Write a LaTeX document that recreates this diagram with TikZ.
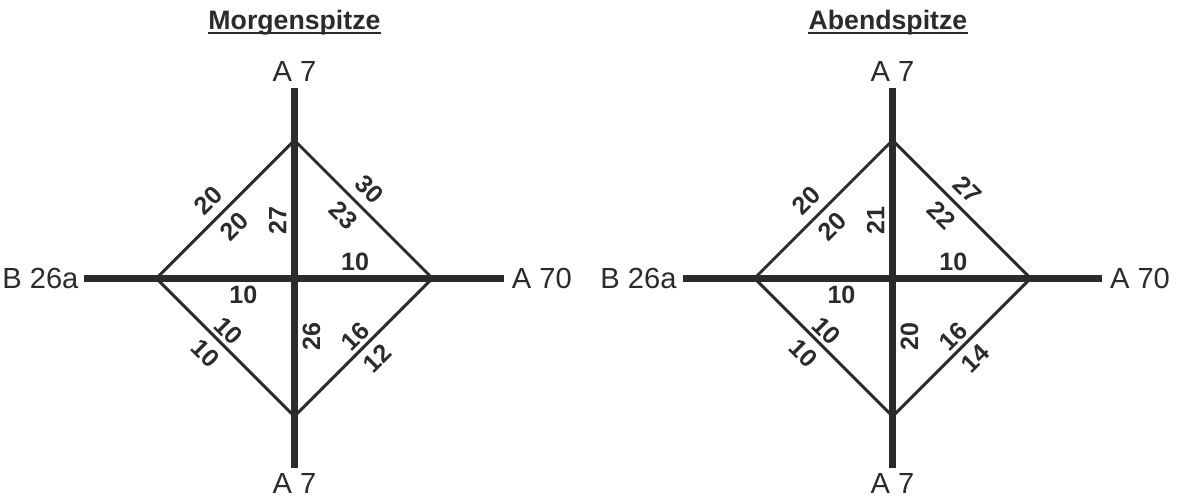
\documentclass[tikz,border=0pt]{standalone}
\usepackage{fontspec}
\setmainfont{Liberation Sans}
\usetikzlibrary{positioning}
\definecolor{ink}{HTML}{2B2B2B}

\begin{document}
\begin{tikzpicture}[
  road/.style={draw=ink, line width=4.3pt},
  side/.style={draw=ink, line width=1.85pt},
  num/.style={font=\fontsize{15.5}{15.5}\selectfont\bfseries, text=ink, inner sep=4.8pt, sloped},
  numin/.style={num, inner sep=2pt},
  dest/.style={font=\fontsize{18}{18}\selectfont, text=ink, inner sep=0pt},
  title/.style={font=\fontsize{16.5}{17}\selectfont\bfseries, text=ink, inner sep=0pt, anchor=base},
  uline/.style={draw=ink, line width=1.2pt}
]
\useasboundingbox (0,0) rectangle (25.8,10.85);

% Morgenspitze
\begin{scope}[shift={(6.4,4.8)}]
\coordinate (mC) at (0,0);
\coordinate (mT) at (0,3);
\coordinate (mB) at (0,-3);
\coordinate (mL) at (-3,0);
\coordinate (mR) at (3,0);
\coordinate (mN) at (0,4.13);
\coordinate (mS) at (0,-4.13);
\coordinate (mW) at (-4.565,0);
\coordinate (mE) at (4.545,0);
\node[title] (mTitle) at (0,5.41) {Morgenspitze};
\draw[uline] ([yshift=-2pt]mTitle.base west) -- ([yshift=-2pt]mTitle.base east);
\draw[side] (mL) -- node[num, pos=.47, above] {20} node[num, pos=.47, below] {20} (mT);
\draw[side] (mT) -- node[num, pos=.45, above] {30} node[num, pos=.45, below] {23} (mR);
\draw[side] (mL) -- node[numin, pos=.45, above] {10} node[num, pos=.45, below] {10} (mB);
\draw[side] (mB) -- node[numin, pos=.51, above] {16} node[num, pos=.51, below] {12} (mR);
\draw[road] (mW) -- (mE);
\draw[road] (mN) -- (mS);
\path (mC) -- node[num, pos=.42, above] {27} (mT);
\path (mB) -- node[num, pos=.58, below] {26} (mC);
\path (mC) -- node[num, pos=.44, above] {10} (mR);
\path (mL) -- node[num, pos=.63, below] {10} (mC);
\node[dest, left=3.5pt of mW] (mWl) {B 26a};
\node[dest, right=5pt of mE] (mEl) {A 70};
\node[dest, above=4pt of mN] (mNl) {A 7};
\node[dest, below=3pt of mS] (mSl) {A 7};
\end{scope}

% Abendspitze
\begin{scope}[shift={(19.4,4.8)}]
\coordinate (aC) at (0,0);
\coordinate (aT) at (0,3);
\coordinate (aB) at (0,-3);
\coordinate (aL) at (-3,0);
\coordinate (aR) at (3,0);
\coordinate (aN) at (0,4.13);
\coordinate (aS) at (0,-4.13);
\coordinate (aW) at (-4.565,0);
\coordinate (aE) at (4.545,0);
\node[title] (aTitle) at (-0.1,5.41) {Abendspitze};
\draw[uline] ([yshift=-2pt]aTitle.base west) -- ([yshift=-2pt]aTitle.base east);
\draw[side] (aL) -- node[num, pos=.47, above] {20} node[num, pos=.47, below] {20} (aT);
\draw[side] (aT) -- node[num, pos=.45, above] {27} node[num, pos=.45, below] {22} (aR);
\draw[side] (aL) -- node[numin, pos=.45, above] {10} node[num, pos=.45, below] {10} (aB);
\draw[side] (aB) -- node[numin, pos=.51, above] {16} node[num, pos=.51, below] {14} (aR);
\draw[road] (aW) -- (aE);
\draw[road] (aN) -- (aS);
\path (aC) -- node[num, pos=.42, above] {21} (aT);
\path (aB) -- node[num, pos=.58, below] {20} (aC);
\path (aC) -- node[num, pos=.44, above] {10} (aR);
\path (aL) -- node[num, pos=.63, below] {10} (aC);
\node[dest, left=3.5pt of aW] (aWl) {B 26a};
\node[dest, right=5pt of aE] (aEl) {A 70};
\node[dest, above=4pt of aN] (aNl) {A 7};
\node[dest, below=3pt of aS] (aSl) {A 7};
\end{scope}
\end{tikzpicture}
\end{document}
